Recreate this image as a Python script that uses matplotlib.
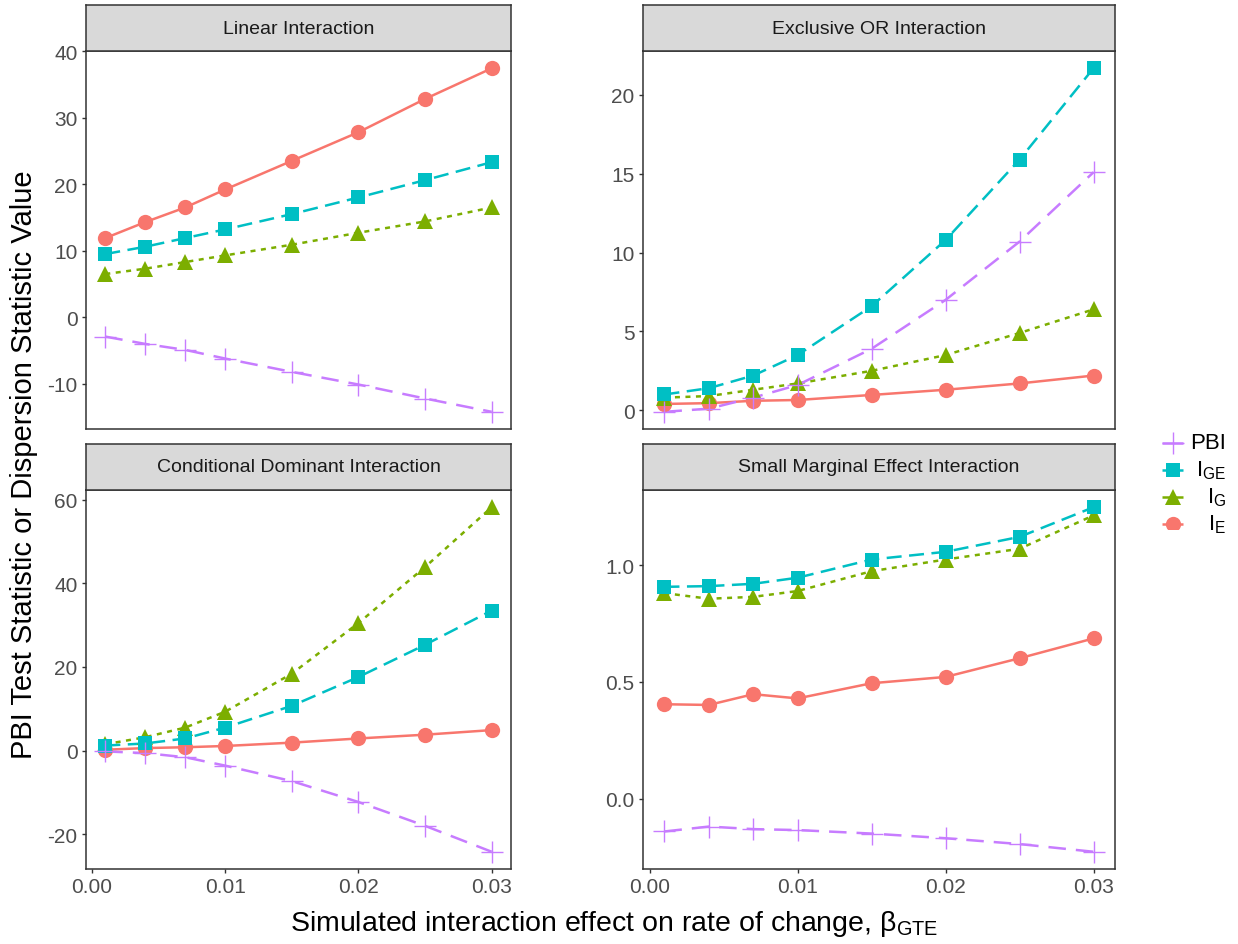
import numpy as np
import matplotlib
matplotlib.use("Agg")
import matplotlib.pyplot as plt

plt.rcParams["font.family"] = ["Liberation Sans", "DejaVu Sans"]
plt.rcParams["mathtext.fontset"] = "custom"
plt.rcParams["mathtext.rm"] = "Liberation Sans"

x = [0.001, 0.004, 0.007, 0.010, 0.015, 0.020, 0.025, 0.030]

panel_titles = ["Linear Interaction", "Exclusive OR Interaction",
                "Conditional Dominant Interaction", "Small Marginal Effect Interaction"]

# statistic values per panel
linear_ie = [11.9, 14.3, 16.5, 19.2, 23.5, 27.8, 32.8, 37.4]
linear_ig = [6.5, 7.3, 8.3, 9.3, 10.9, 12.7, 14.4, 16.5]
linear_ige = [9.5, 10.6, 11.9, 13.2, 15.5, 18.0, 20.6, 23.3]
linear_pbi = [-2.9, -4.0, -4.9, -6.2, -8.2, -10.1, -12.2, -14.2]

xor_ie = [0.4, 0.45, 0.6, 0.65, 0.97, 1.3, 1.7, 2.2]
xor_ig = [0.8, 0.9, 1.3, 1.7, 2.5, 3.5, 4.9, 6.4]
xor_ige = [1.0, 1.4, 2.2, 3.5, 6.6, 10.8, 15.9, 21.7]
xor_pbi = [-0.1, 0.1, 0.8, 1.6, 3.9, 7.0, 10.7, 15.1]

cond_ie = [0.2, 0.6, 0.8, 1.1, 1.9, 2.9, 3.8, 4.9]
cond_ig = [1.5, 3.2, 5.5, 9.3, 18.4, 30.5, 43.9, 58.2]
cond_ige = [1.2, 1.7, 2.9, 5.5, 10.7, 17.6, 25.3, 33.5]
cond_pbi = [-0.2, -0.6, -1.6, -3.6, -7.3, -12.3, -18.0, -24.2]

small_ie = [0.404, 0.401, 0.447, 0.429, 0.494, 0.521, 0.601, 0.686]
small_ig = [0.88, 0.856, 0.864, 0.889, 0.974, 1.024, 1.07, 1.213]
small_ige = [0.907, 0.910, 0.92, 0.946, 1.024, 1.057, 1.121, 1.248]
small_pbi = [-0.141, -0.12, -0.131, -0.135, -0.15, -0.17, -0.195, -0.228]

yticks = [[-10, 0, 10, 20, 30, 40], [0, 5, 10, 15, 20],
          [-20, 0, 20, 40, 60], [0.0, 0.5, 1.0]]
ytick_fmt = ["{:.0f}", "{:.0f}", "{:.0f}", "{:.1f}"]
xticks = [0.00, 0.01, 0.02, 0.03]

panels = [
    {"I_E": linear_ie, "I_G": linear_ig, "I_GE": linear_ige, "PBI": linear_pbi},
    {"I_E": xor_ie, "I_G": xor_ig, "I_GE": xor_ige, "PBI": xor_pbi},
    {"I_E": cond_ie, "I_G": cond_ig, "I_GE": cond_ige, "PBI": cond_pbi},
    {"I_E": small_ie, "I_G": small_ig, "I_GE": small_ige, "PBI": small_pbi},
]

# ggplot default hue palette
styles = {
    "I_E": dict(color="#F8766D", ls="-", marker="o", ms=11),
    "I_G": dict(color="#7CAE00", ls=(0, (2, 2.2)), marker="^", ms=12),
    "I_GE": dict(color="#00BFC4", ls=(0, (6, 3)), marker="s", ms=10),
    "PBI": dict(color="#C77CFF", ls=(0, (7, 4)), marker="+", ms=16),
}
draw_order = ["I_E", "I_G", "I_GE", "PBI"]
legend_order = ["PBI", "I_GE", "I_G", "I_E"]
legend_labels = {"PBI": "PBI", "I_GE": r"I$_{\mathregular{GE}}$",
                 "I_G": r"I$_{\mathregular{G}}$", "I_E": r"I$_{\mathregular{E}}$"}

W, H = 1238, 945
fig = plt.figure(figsize=(W / 100, H / 100), dpi=100)
fig.patch.set_facecolor("white")

# panel boxes in pixels: left, right, top, bottom
boxes = [(86, 511, 52, 430), (643, 1115, 52, 430),
         (86, 511, 491, 870), (643, 1115, 491, 870)]
strip_h = 46

dark = "#333333"
xlo, xhi = min(x), max(x)
xpad = 0.05 * (xhi - xlo)
lw = 1.8

for i, (l, r, t, b) in enumerate(boxes):
    ax = fig.add_axes([l / W, 1 - b / H, (r - l) / W, (b - t) / H])
    data = panels[i]
    for key in draw_order:
        st = styles[key]
        ax.plot(x, data[key], color=st["color"], linestyle=st["ls"], lw=lw,
                zorder=2)
    for key in draw_order:
        st = styles[key]
        mew = 1.0 if key == "PBI" else 0
        ax.plot(x, data[key], linestyle="none", marker=st["marker"],
                ms=st["ms"], color=st["color"], mew=mew, zorder=3)

    allv = np.concatenate([np.asarray(v, float) for v in data.values()])
    ylo, yhi = allv.min(), allv.max()
    ypad = 0.05 * (yhi - ylo)
    ax.set_ylim(ylo - ypad, yhi + ypad)
    ax.set_xlim(xlo - xpad, xhi + xpad)
    ax.set_yticks(yticks[i])
    ax.set_yticklabels([ytick_fmt[i].format(v) for v in yticks[i]])
    ax.set_xticks(xticks)
    if i >= 2:
        ax.set_xticklabels(["{:.2f}".format(v) for v in xticks])
        ax.tick_params(axis="x", length=3, width=1, color=dark,
                       labelsize=15, labelcolor="#4D4D4D", pad=3)
    else:
        ax.tick_params(axis="x", length=0, labelbottom=False)
    ax.tick_params(axis="y", length=3, width=1, color=dark,
                   labelsize=15, labelcolor="#4D4D4D", pad=3)
    for sp in ax.spines.values():
        sp.set_color(dark)
        sp.set_linewidth(1.1)

    sax = fig.add_axes([l / W, 1 - t / H, (r - l) / W, strip_h / H])
    sax.set_facecolor("#D9D9D9")
    sax.set_xticks([])
    sax.set_yticks([])
    for sp in sax.spines.values():
        sp.set_color(dark)
        sp.set_linewidth(1.1)
    sax.text(0.5, 0.5, panel_titles[i], ha="center", va="center",
             fontsize=14, color="#1A1A1A", transform=sax.transAxes)

fig.text(24 / W, 1 - 465 / H, "PBI Test Statistic or Dispersion Statistic Value",
         rotation=90, ha="center", va="center", fontsize=21, color="black")
fig.text(614 / W, 1 - 924 / H,
         r"Simulated interaction effect on rate of change, β$_{\mathregular{GTE}}$",
         ha="center", va="center", fontsize=20.5, color="black")

# legend drawn in its own axes so labels can sit right-aligned
lax = fig.add_axes([1150 / W, 1 - 530 / H, 85 / W, 110 / H])
lax.set_xlim(0, 85)
lax.set_ylim(110, 0)
lax.axis("off")
for j, key in enumerate(legend_order):
    st = styles[key]
    yy = 24 + j * 27
    lax.plot([12, 33], [yy, yy], color=st["color"], lw=lw, solid_capstyle="butt")
    lax.plot([22.5], [yy], marker=st["marker"], ms=st["ms"], color=st["color"],
             mew=1.0 if key == "PBI" else 0, linestyle="none")
    lax.text(76, yy, legend_labels[key], ha="right", va="center", fontsize=16,
             color="black")

fig.savefig("out.png", dpi=100, facecolor="white")
